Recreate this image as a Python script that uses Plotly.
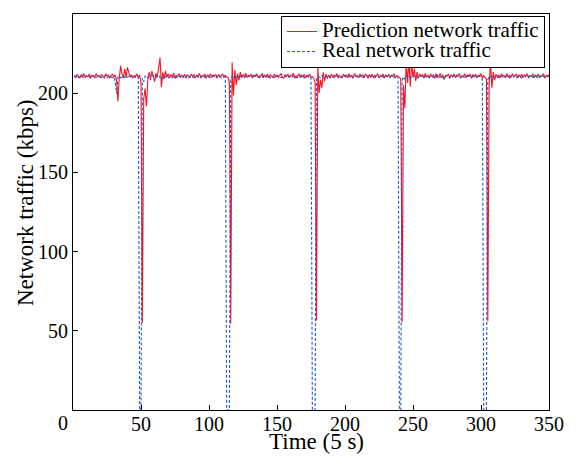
import plotly.graph_objects as go

time_steps = list(range(1, 351))

real_traffic = [
    210.8, 210.2, 211.3, 209.9, 210.6, 211.0, 210.1, 209.7, 210.9, 210.4,
    211.2, 210.0, 209.6, 210.7, 211.1, 210.3, 209.8, 210.5, 211.4, 210.2,
    209.9, 210.8, 210.3, 211.0, 209.7, 210.6, 210.9, 210.1, 209.8, 210.5,
    207.5, 199.8, 210.2, 210.9, 209.6, 210.4, 211.2, 209.9, 210.7, 210.1,
    210.6, 209.8, 211.0, 210.3, 210.8, 209.9, 210.5, 210.7, 0.0, 0.0,
    209.5, 207.2, 210.8, 211.3, 209.7, 210.2, 208.4, 210.9, 211.1, 210.0,
    209.6, 210.7, 211.4, 209.9, 210.3, 208.9, 210.8, 210.2, 211.0, 209.7,
    210.5, 210.9, 209.8, 210.4, 211.2, 210.0, 209.6, 210.8, 210.3, 211.1,
    209.9, 210.6, 210.1, 211.3, 209.7, 210.4, 210.9, 210.0, 209.8, 210.7,
    211.0, 210.2, 209.6, 210.8, 210.5, 211.2, 209.9, 210.3, 210.7, 210.1,
    209.8, 210.9, 211.1, 210.4, 209.7, 210.6, 210.2, 211.0, 209.9, 210.5,
    210.8, 210.3, 0.0, 0.0, 0.0, 207.6, 210.9, 209.5, 211.2, 210.1,
    210.6, 209.8, 210.4, 211.1, 210.0, 209.7, 210.8, 210.3, 211.0, 209.9,
    210.5, 210.9, 209.6, 210.2, 211.3, 210.4, 209.8, 210.7, 210.1, 211.0,
    209.9, 210.6, 210.3, 211.2, 209.7, 210.5, 210.8, 210.0, 209.6, 210.9,
    211.1, 210.2, 209.8, 210.7, 210.4, 211.0, 209.9, 210.3, 210.8, 210.1,
    209.7, 210.6, 211.2, 210.0, 209.8, 210.5, 210.9, 210.3, 211.1, 209.6,
    210.4, 210.8, 210.1, 211.0, 209.9, 0.0, 0.0, 0.0, 208.8, 210.6,
    210.2, 209.7, 211.1, 210.4, 209.9, 210.8, 210.3, 211.0, 209.6, 210.5,
    210.9, 210.1, 209.8, 210.7, 211.2, 210.0, 209.9, 210.6, 210.4, 211.1,
    209.7, 210.3, 210.8, 210.2, 211.0, 209.8, 210.5, 210.9, 210.1, 209.6,
    210.7, 211.3, 210.0, 209.9, 210.6, 210.4, 211.1, 209.7, 210.2, 210.8,
    210.3, 209.8, 211.0, 210.5, 209.9, 210.7, 211.2, 210.1, 209.6, 210.4,
    210.9, 210.2, 209.8, 211.1, 210.6, 210.0, 209.7, 210.8, 210.3, 0.0,
    0.0, 207.9, 210.4, 208.6, 211.0, 209.9, 210.5, 210.2, 209.8, 210.7,
    211.2, 210.0, 209.6, 210.6, 210.9, 210.3, 211.0, 209.8, 210.4, 210.8,
    210.1, 209.7, 211.1, 210.5, 209.9, 210.6, 210.2, 211.3, 209.8, 210.4,
    210.9, 210.0, 208.7, 210.7, 211.0, 210.3, 209.6, 210.8, 210.2, 211.1,
    209.9, 210.5, 210.9, 210.1, 209.7, 211.2, 210.4, 210.0, 209.8, 210.6,
    211.0, 210.3, 209.9, 210.7, 210.2, 211.1, 209.6, 210.5, 210.8, 210.1,
    209.8, 0.0, 0.0, 0.0, 208.5, 210.9, 210.2, 211.0, 209.7, 210.4,
    210.8, 210.0, 209.9, 211.2, 210.6, 210.3, 209.8, 210.7, 211.0, 210.1,
    209.6, 210.5, 210.9, 210.2, 211.1, 209.9, 210.4, 210.8, 210.0, 209.7,
    210.6, 211.3, 210.1, 209.8, 210.7, 210.4, 211.0, 209.9, 210.5, 210.9,
    210.2, 209.7, 211.1, 210.3, 210.0, 210.8, 209.9, 210.6, 211.2, 210.4,
]

predicted_traffic = [
    211.5, 209.8, 212.0, 210.6, 209.4, 211.8, 210.2, 212.3, 209.9, 211.0,
    210.3, 212.1, 209.6, 211.4, 210.8, 209.5, 212.4, 210.7, 211.2, 209.8,
    211.9, 210.4, 209.7, 212.2, 210.9, 211.5, 209.6, 211.1, 212.0, 210.3,
    211.6, 208.4, 195.0, 209.3, 217.2, 212.0, 209.5, 215.4, 209.8, 216.3,
    213.5, 210.1, 211.7, 209.4, 211.2, 210.6, 212.1, 209.9, 211.4, 206.0,
    55.0, 196.5, 203.0, 191.8, 208.2, 213.4, 209.1, 214.0, 210.8, 207.3,
    212.5, 210.2, 216.0, 222.5, 203.8, 213.2, 208.9, 214.1, 210.0, 212.3,
    209.6, 211.8, 210.4, 212.6, 209.3, 211.1, 210.7, 212.4, 209.8, 211.5,
    210.2, 212.0, 209.5, 211.3, 210.9, 209.7, 212.2, 210.5, 211.6, 209.9,
    211.2, 210.3, 212.5, 209.6, 211.0, 210.8, 212.1, 209.4, 211.7, 210.2,
    212.3, 209.8, 211.4, 210.6, 212.0, 209.5, 211.9, 210.3, 211.1, 212.2,
    209.7, 211.5, 210.2, 209.9, 206.5, 54.5, 219.5, 198.5, 214.8, 205.2,
    212.4, 208.1, 213.3, 209.6, 211.8, 210.2, 212.6, 209.9, 211.3, 210.7,
    212.1, 209.5, 211.6, 210.4, 212.3, 209.8, 211.0, 210.6, 212.5, 209.7,
    211.4, 210.1, 212.2, 209.6, 211.7, 210.9, 209.8, 212.0, 210.3, 211.5,
    209.9, 211.2, 212.4, 210.0, 209.5, 211.8, 210.6, 212.1, 209.7, 211.3,
    210.8, 212.6, 209.4, 211.0, 210.5, 212.3, 209.8, 211.6, 210.2, 211.9,
    209.6, 211.4, 210.7, 212.0, 209.9, 210.5, 209.2, 206.8, 56.5, 217.0,
    200.2, 208.4, 203.5, 213.2, 207.4, 212.1, 209.3, 211.4, 210.0, 212.2,
    209.7, 211.5, 210.3, 212.4, 209.5, 211.1, 210.8, 209.6, 212.0, 210.4,
    211.7, 209.8, 212.3, 210.1, 211.2, 209.5, 212.5, 210.6, 211.0, 209.9,
    212.1, 210.4, 211.6, 209.7, 212.2, 210.9, 209.4, 211.8, 210.2, 212.0,
    209.6, 211.3, 210.7, 212.4, 209.8, 211.1, 210.5, 212.2, 209.5, 211.7,
    210.3, 212.0, 209.9, 211.4, 210.6, 212.3, 209.7, 211.2, 210.8, 210.0,
    209.1, 55.5, 205.0, 190.5, 219.8, 206.5, 220.8, 204.2, 219.0, 209.8,
    215.6, 207.8, 213.4, 209.5, 212.2, 210.4, 211.8, 209.6, 212.5, 210.1,
    211.3, 209.8, 212.1, 210.6, 211.5, 209.4, 212.3, 210.2, 211.0, 212.4,
    209.7, 211.6, 208.9, 211.2, 210.8, 212.0, 209.5, 211.7, 210.3, 212.2,
    209.9, 211.4, 210.6, 212.5, 209.6, 211.1, 210.2, 212.3, 209.8, 211.5,
    210.7, 212.1, 209.4, 211.8, 210.3, 212.0, 209.7, 211.3, 210.9, 212.4,
    209.6, 211.2, 210.0, 208.8, 56.0, 205.8, 219.6, 203.5, 213.4, 208.2,
    212.0, 210.3, 211.6, 209.5, 212.2, 210.8, 211.1, 209.7, 212.4, 210.0,
    211.5, 209.8, 212.3, 210.4, 211.0, 212.1, 209.6, 211.7, 210.2, 212.0,
    209.9, 211.4, 210.7, 212.3, 209.5, 211.2, 210.6, 212.1, 209.8, 211.6,
    210.3, 212.2, 209.7, 211.0, 210.8, 212.4, 209.6, 211.3, 210.5, 211.8,
]

x_ticks = [50, 100, 150, 200, 250, 300, 350]
y_ticks = [50, 100, 150, 200, 250]
series_names = ["Prediction network traffic", "Real network traffic"]
x_title = "Time (5 s)"
y_title = "Network traffic (kbps)"

FONT = "Liberation Serif, Times New Roman, serif"
TICK_SIZE = 20
TITLE_SIZE = 23
LEGEND_TEXT_SIZE = 21


def legend_label(text):
    return '<span style="font-size:%dpx">%s</span>' % (LEGEND_TEXT_SIZE, text)


fig = go.Figure()
fig.add_trace(go.Scatter(
    x=time_steps, y=predicted_traffic, mode="lines",
    name=legend_label(series_names[0]),
    line=dict(color="#ff1020", width=1.1),
))
fig.add_trace(go.Scatter(
    x=time_steps, y=real_traffic, mode="lines",
    name=legend_label(series_names[1]),
    line=dict(color="#1f5bc6", width=1.1, dash="3px,2px"),
))

axis_common = dict(
    showline=True, linecolor="black", linewidth=1.2, mirror=True,
    showgrid=False, zeroline=False, ticks="inside", ticklen=5,
    tickcolor="black", tickwidth=1, automargin=False,
    tickfont=dict(family=FONT, size=TICK_SIZE, color="black"),
)

fig.update_xaxes(
    range=[0, 350], tickvals=x_ticks, ticktext=[str(v) for v in x_ticks],
    ticklabelstandoff=-4,
    **axis_common,
)
fig.update_yaxes(
    range=[0, 250], tickvals=y_ticks, ticktext=[str(v) for v in y_ticks],
    **axis_common,
)

title_font = dict(family=FONT, size=TITLE_SIZE, color="black")
fig.add_annotation(
    x=0.5, y=0, xref="paper", yref="paper", text=x_title, showarrow=False,
    xanchor="center", yanchor="middle", xshift=5, yshift=-31,
    font=title_font,
)
fig.add_annotation(
    x=0, y=0.5, xref="paper", yref="paper", text=y_title, showarrow=False,
    xanchor="center", yanchor="middle", xshift=-48, yshift=9, textangle=-90,
    font=title_font,
)
fig.add_annotation(
    x=0, y=0, xref="x", yref="y", text="0", showarrow=False,
    xanchor="center", yanchor="middle", xshift=-10, yshift=-13,
    font=dict(family=FONT, size=TICK_SIZE, color="black"),
)

fig.update_layout(
    width=581, height=459,
    margin=dict(l=65, r=40, t=6, b=57, autoexpand=False),
    paper_bgcolor="white", plot_bgcolor="white",
    font=dict(family=FONT, size=TICK_SIZE, color="black"),
    showlegend=True,
    legend=dict(
        x=0.9916, xanchor="right", y=0.996, yanchor="top",
        bgcolor="white", bordercolor="black", borderwidth=1,
        font=dict(family=FONT, size=13, color="black"),
        tracegroupgap=0,
    ),
)

fig.write_html("out.html")
